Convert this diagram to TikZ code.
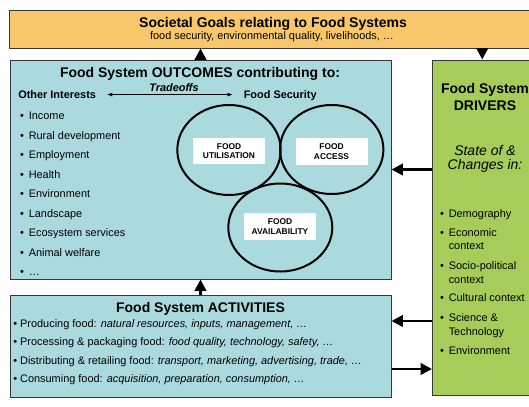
\documentclass[tikz,border=0pt]{standalone}
\usepackage{fontspec}
\setmainfont{Liberation Sans}
\usetikzlibrary{arrows.meta,fit}

\definecolor{goalfill}{RGB}{249,199,107}
\definecolor{outfill}{RGB}{170,218,222}
\definecolor{drvfill}{RGB}{166,205,90}
\definecolor{boxline}{RGB}{55,55,55}

\tikzset{
  panel/.style={draw=boxline, line width=0.75pt, inner sep=0pt},
  bigarrow/.style={line width=2pt, -{Triangle[length=8.5pt,width=8.5pt]}},
  tradearrow/.style={line width=0.6pt, {Latex[length=4pt,width=3pt]}-{Latex[length=4pt,width=3pt]}},
  headtext/.style={font=\fontsize{10.5}{12.6}\selectfont\bfseries, inner sep=0pt, anchor=base},
  bodytext/.style={font=\fontsize{8.2}{9.8}\selectfont, inner sep=0pt, anchor=base west},
  bulleted/.style={bodytext, execute at begin node={\llap{•\hspace{3.7pt}}}},
  fslabel/.style={fill=white, minimum width=54pt, minimum height=20pt, inner sep=0pt, align=center, font=\fontsize{6.3}{7.3}\selectfont\bfseries},
  ring/.style={line width=1.5pt}
}

\begin{document}
\begin{tikzpicture}[x=0.75pt,y=0.75pt,yscale=-1,xscale=1]
\useasboundingbox (0,0) rectangle (529,407);

%Shape: Rectangle [goals]
\node [panel, fill=goalfill, fit={(9.5,10) (540,48)}] (goals) {};
%Shape: Rectangle [outcomes]
\node [panel, fill=outfill, fit={(10,60) (391,279)}] (outcomes) {};
%Shape: Rectangle [drivers]
\node [panel, fill=drvfill, fit={(432.5,60) (532,395)}] (drivers) {};
%Shape: Rectangle [activities]
\node [panel, fill=outfill, fit={(10,295) (391,397)}] (activities) {};

%Straight Lines [arrows between boxes]
\draw [bigarrow] (outcomes.north) -- (outcomes.north |- goals.south);
\draw [bigarrow] (drivers.north |- goals.south) -- (drivers.north);
\draw [bigarrow] (activities.north) -- (activities.north |- outcomes.south);
\draw [bigarrow] (drivers.west |- outcomes.east) -- (outcomes.east);
\coordinate (actin) at (activities.east |- 0,321);
\coordinate (actout) at (activities.east |- 0,369);
\draw [bigarrow] (drivers.west |- actin) -- (actin);
\draw [bigarrow] (actout) -- (drivers.west |- actout);

%Shape: Ellipse [food security dimensions]
\draw [ring] (229,150) ellipse [x radius=51.7, y radius=45];
\draw [ring] (331.7,149.5) ellipse [x radius=51.7, y radius=44.5];
\draw [ring] (280.3,227.5) ellipse [x radius=52, y radius=44];

% Text Node
\node [fslabel] (utilisation) at (229,151) {FOOD\\UTILISATION};
% Text Node
\node [fslabel] (access) at (331.5,151.5) {FOOD\\ACCESS};
% Text Node
\node [fslabel] (availability) at (280,226.5) {FOOD\\AVAILABILITY};

% Text Node
\node [headtext] (goaltitle) at (273,27.5) {Societal Goals relating to Food Systems};
% Text Node
\node [bodytext, anchor=base] (goalsub) at (272,39.5) {food security, environmental quality, livelihoods, …};

% Text Node
\node [headtext] (outtitle) at (200,77.5) {Food System OUTCOMES contributing to:};
% Text Node
\node [bodytext, font=\fontsize{8.2}{9.8}\selectfont\bfseries] (othint) at (18,98.5) {Other Interests};
% Text Node
\node [bodytext, anchor=base, font=\fontsize{8.2}{9.8}\selectfont\bfseries\itshape] (tradeoffs) at (174,91) {Tradeoffs};
% Text Node
\node [bodytext, font=\fontsize{8.2}{9.8}\selectfont\bfseries] (foodsec) at (243.5,98.5) {Food Security};
\draw [tradearrow, shorten <=8pt, shorten >=8pt] (othint.east) -- (othint.east -| foodsec.west);

% Text Node
\node [bulleted] (income) at (28.5,119.5) {Income};
% Text Node
\node [bulleted] (rural) at (28.5,139) {Rural development};
% Text Node
\node [bulleted] (employment) at (28.5,158.5) {Employment};
% Text Node
\node [bulleted] (health) at (28.5,178) {Health};
% Text Node
\node [bulleted] (environment) at (28.5,197.5) {Environment};
% Text Node
\node [bulleted] (landscape) at (28.5,217) {Landscape};
% Text Node
\node [bulleted] (ecosystem) at (28.5,236.5) {Ecosystem services};
% Text Node
\node [bulleted] (welfare) at (28.5,256) {Animal welfare};
% Text Node
\node [bulleted] (more) at (28.5,275.5) {…};

% Text Node
\node [headtext] (drvtitle) at (485,93.5) {Food System};
% Text Node
\node [headtext] (drvname) at (485,110.5) {DRIVERS};
% Text Node
\node [headtext, font=\fontsize{10.5}{12.6}\selectfont\itshape] (stateof) at (485,155) {State of \&};
% Text Node
\node [headtext, font=\fontsize{10.5}{12.6}\selectfont\itshape] (changes) at (485,169.5) {Changes in:};

% Text Node
\node [bulleted] (demography) at (448.5,217.3) {Demography};
% Text Node
\node [bulleted] (economic) at (448.5,236.3) {Economic};
\node [bodytext] (economic2) at (448.5,249.7) {context};
% Text Node
\node [bulleted] (sociopol) at (448.5,269) {Socio-political};
\node [bodytext] (sociopol2) at (448.5,283) {context};
% Text Node
\node [bulleted] (cultural) at (448.5,301.7) {Cultural context};
% Text Node
\node [bulleted] (science) at (448.5,321.3) {Science \&};
\node [bodytext] (science2) at (448.5,335) {Technology};
% Text Node
\node [bulleted] (drvenv) at (448.5,354) {Environment};

% Text Node
\node [headtext] (acttitle) at (200.5,312.5) {Food System ACTIVITIES};
% Text Node
\node [bodytext] (producing) at (13,327) {• Producing food: \textit{natural resources, inputs, management, …}};
% Text Node
\node [bodytext] (processing) at (13,345.5) {• Processing \& packaging food: \textit{food quality, technology, safety, …}};
% Text Node
\node [bodytext] (distributing) at (13,364) {• Distributing \& retailing food: \textit{transport, marketing, advertising, trade, …}};
% Text Node
\node [bodytext] (consuming) at (13,382.5) {• Consuming food: \textit{acquisition, preparation, consumption, …}};

\end{tikzpicture}
\end{document}
